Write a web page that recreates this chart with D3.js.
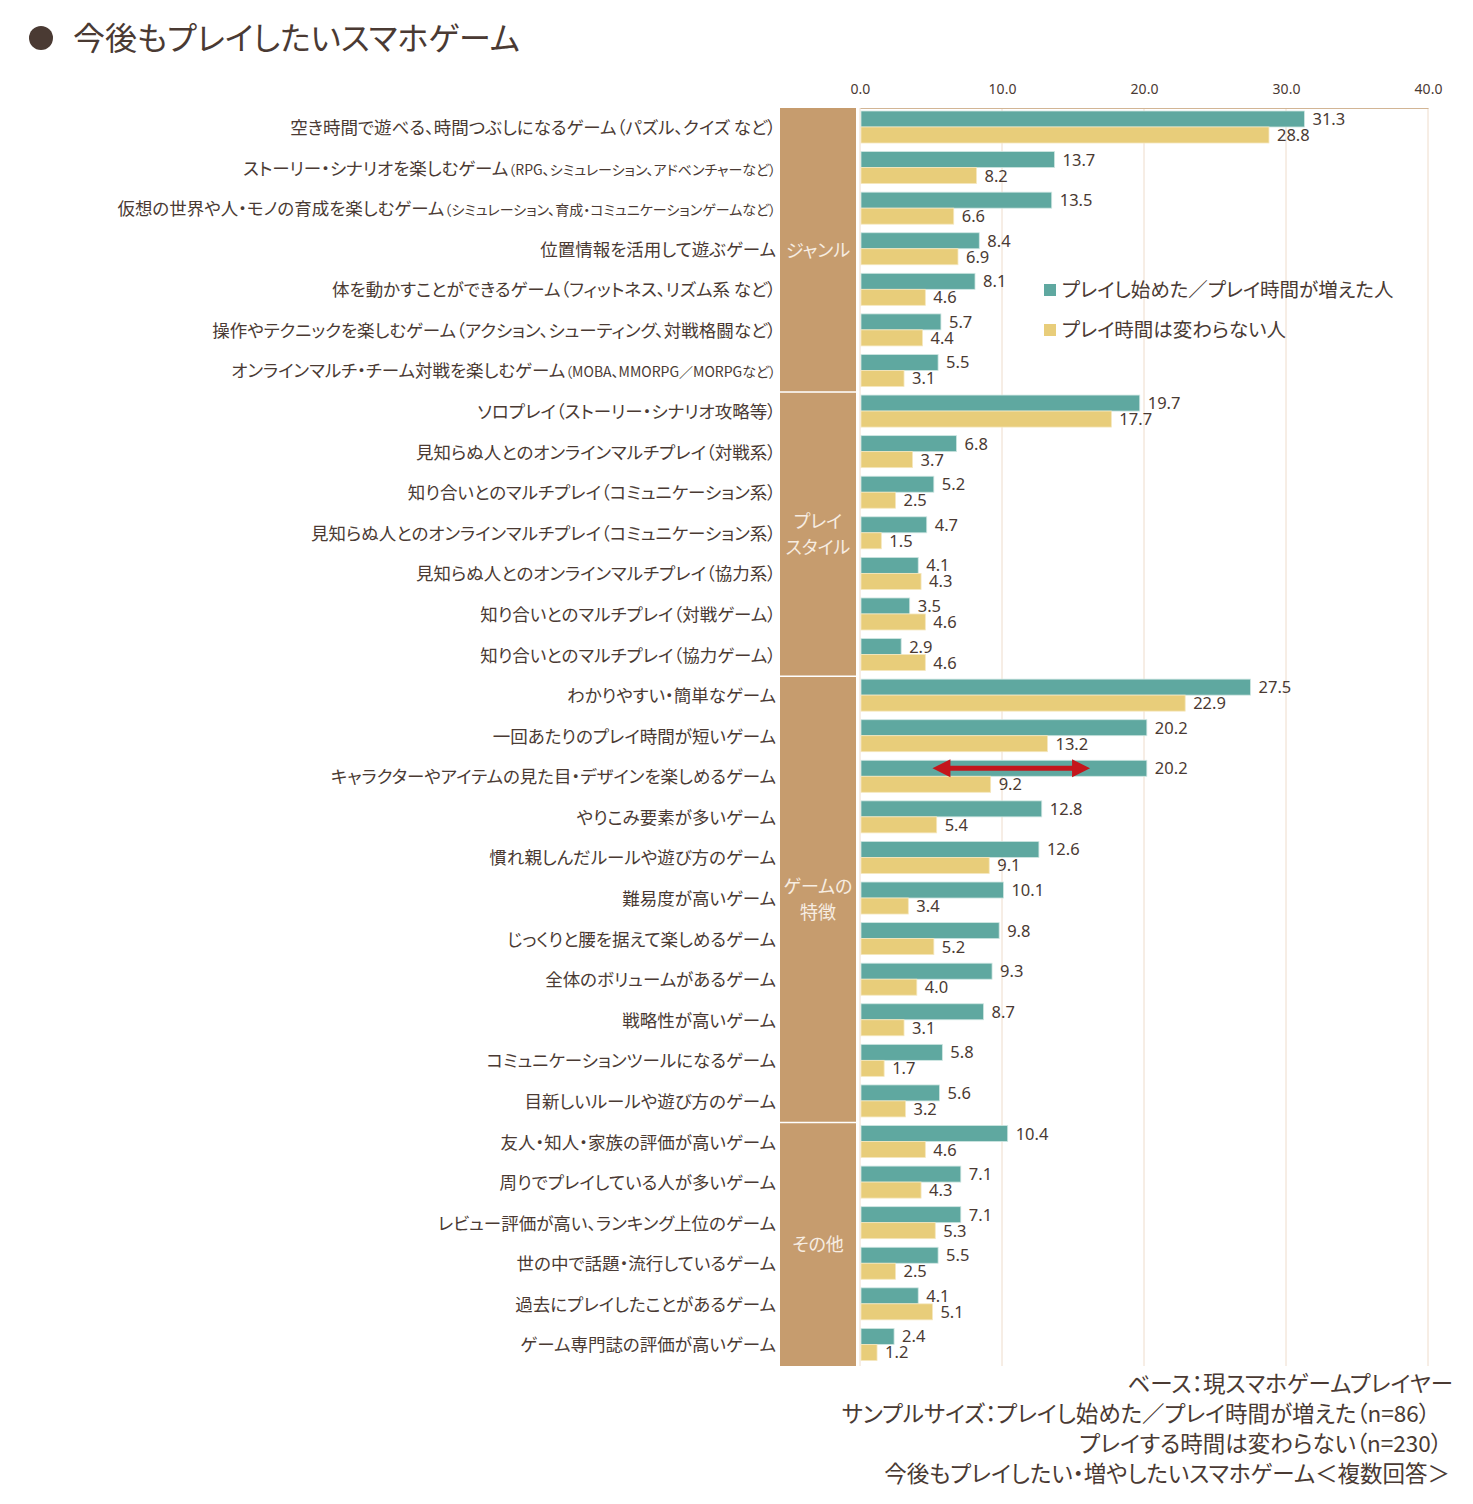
<!DOCTYPE html>
<html>
<head>
<meta charset="utf-8">
<script src="https://cdn.jsdelivr.net/npm/d3@7"></script>
<style>
  body { margin: 0; background: #fff; }
  svg text { font-family: "Noto Sans CJK JP", "Noto Sans", sans-serif; font-feature-settings: "palt"; fill: #4a3a33; }
</style>
</head>
<body>
<div id="chart-area"></div>
<script>
// DATA
// =================
var labels = [
    ['空き時間で遊べる、時間つぶしになるゲーム（パズル、クイズ など）', ''],
    ['ストーリー・シナリオを楽しむゲーム', '（RPG、シミュレーション、アドベンチャーなど）'],
    ['仮想の世界や人・モノの育成を楽しむゲーム', '（シミュレーション、育成・コミュニケーションゲームなど）'],
    ['位置情報を活用して遊ぶゲーム', ''],
    ['体を動かすことができるゲーム（フィットネス、リズム系 など）', ''],
    ['操作やテクニックを楽しむゲーム（アクション、シューティング、対戦格闘など）', ''],
    ['オンラインマルチ・チーム対戦を楽しむゲーム', '（MOBA、MMORPG／MORPGなど）'],
    ['ソロプレイ（ストーリー・シナリオ攻略等）', ''],
    ['見知らぬ人とのオンラインマルチプレイ（対戦系）', ''],
    ['知り合いとのマルチプレイ（コミュニケーション系）', ''],
    ['見知らぬ人とのオンラインマルチプレイ（コミュニケーション系）', ''],
    ['見知らぬ人とのオンラインマルチプレイ（協力系）', ''],
    ['知り合いとのマルチプレイ（対戦ゲーム）', ''],
    ['知り合いとのマルチプレイ（協力ゲーム）', ''],
    ['わかりやすい・簡単なゲーム', ''],
    ['一回あたりのプレイ時間が短いゲーム', ''],
    ['キャラクターやアイテムの見た目・デザインを楽しめるゲーム', ''],
    ['やりこみ要素が多いゲーム', ''],
    ['慣れ親しんだルールや遊び方のゲーム', ''],
    ['難易度が高いゲーム', ''],
    ['じっくりと腰を据えて楽しめるゲーム', ''],
    ['全体のボリュームがあるゲーム', ''],
    ['戦略性が高いゲーム', ''],
    ['コミュニケーションツールになるゲーム', ''],
    ['目新しいルールや遊び方のゲーム', ''],
    ['友人・知人・家族の評価が高いゲーム', ''],
    ['周りでプレイしている人が多いゲーム', ''],
    ['レビュー評価が高い、ランキング上位のゲーム', ''],
    ['世の中で話題・流行しているゲーム', ''],
    ['過去にプレイしたことがあるゲーム', ''],
    ['ゲーム専門誌の評価が高いゲーム', '']
];

var increased = [31.3, 13.7, 13.5, 8.4, 8.1, 5.7, 5.5,
    19.7, 6.8, 5.2, 4.7, 4.1, 3.5, 2.9,
    27.5, 20.2, 20.2, 12.8, 12.6, 10.1, 9.8, 9.3, 8.7, 5.8, 5.6,
    10.4, 7.1, 7.1, 5.5, 4.1, 2.4];

var unchanged = [28.8, 8.2, 6.6, 6.9, 4.6, 4.4, 3.1,
    17.7, 3.7, 2.5, 1.5, 4.3, 4.6, 4.6,
    22.9, 13.2, 9.2, 5.4, 9.1, 3.4, 5.2, 4.0, 3.1, 1.7, 3.2,
    4.6, 4.3, 5.3, 2.5, 5.1, 1.2];

var groups = [
    { name: ['ジャンル'], from: 0, to: 6 },
    { name: ['プレイ', 'スタイル'], from: 7, to: 13 },
    { name: ['ゲームの', '特徴'], from: 14, to: 24 },
    { name: ['その他'], from: 25, to: 30 }
];

var ticks = [0, 10, 20, 30, 40];
var seriesNames = ['プレイし始めた／プレイ時間が増えた人', 'プレイ時間は変わらない人'];
var footer = [
    'ベース：現スマホゲームプレイヤー',
    'サンプルサイズ：プレイし始めた／プレイ時間が増えた（n=86）',
    'プレイする時間は変わらない（n=230）',
    '今後もプレイしたい・増やしたいスマホゲーム＜複数回答＞'
];
var arrowRow = 16, arrowFrom = 5.1, arrowTo = 16.2;

// CANVAS
// =================
var W = 1473, H = 1504;
var teal = '#5fa8a0', yellow = '#e8cd7a', band = '#c69c6e', grid = '#eedccb', ink = '#4a3a33';

var svg = d3.select('#chart-area')
    .append('svg')
        .attr('width', W)
        .attr('height', H);

// TITLE
svg.append('circle').attr('cx', 41).attr('cy', 38).attr('r', 12).attr('fill', ink);
svg.append('text')
    .attr('x', 73).attr('y', 50)
    .attr('font-size', '32px')
    .text('今後もプレイしたいスマホゲーム');

// SCALES
// =================
var x = d3.scaleLinear().domain([0, 40]).range([860, 1428]);
var y = d3.scaleBand().domain(d3.range(labels.length)).range([108, 1366]);
var ySub = d3.scaleBand().domain(['inc', 'same']).range([3, 35]);

// GRID
svg.append('g').selectAll('line')
    .data(ticks)
    .enter().append('line')
        .attr('x1', d => x(d)).attr('x2', d => x(d))
        .attr('y1', 108).attr('y2', 1366)
        .attr('stroke', grid).attr('stroke-width', 1);

// AXIS
var xAxisCall = d3.axisTop(x)
    .tickValues(ticks)
    .tickSize(0)
    .tickPadding(14)
    .tickFormat(d3.format('.1f'));
var xAxis = svg.append('g')
    .attr('transform', 'translate(0,108)')
    .call(xAxisCall);
xAxis.select('.domain').attr('stroke', '#d2b595');
xAxis.selectAll('text')
    .attr('font-size', '14px')
    .style('font-family', '"Noto Sans", sans-serif')
    .attr('fill', ink);

// CATEGORY BAND
var gb = svg.append('g');
gb.selectAll('rect')
    .data(groups)
    .enter().append('rect')
        .attr('x', 780).attr('width', 76)
        .attr('y', d => y(d.from))
        .attr('height', d => y(d.to) + y.bandwidth() - y(d.from))
        .attr('fill', band);
gb.selectAll('line')
    .data(groups.slice(1))
    .enter().append('line')
        .attr('x1', 780).attr('x2', 856)
        .attr('y1', d => y(d.from)).attr('y2', d => y(d.from))
        .attr('stroke', '#fff').attr('stroke-width', 1.5);
groups.forEach(g => {
    var cy = (y(g.from) + y(g.to) + y.bandwidth()) / 2;
    var t = svg.append('text')
        .attr('x', 818)
        .attr('text-anchor', 'middle')
        .attr('font-size', '18px')
        .style('fill', '#f7ede2');
    g.name.forEach((n, i) => {
        t.append('tspan')
            .attr('x', 818)
            .attr('y', cy + 7 + (i - (g.name.length - 1) / 2) * 26)
            .text(n);
    });
});

// ROW LABELS
labels.forEach((l, i) => {
    var t = svg.append('text')
        .attr('x', 776)
        .attr('y', y(i) + 26)
        .attr('text-anchor', 'end')
        .attr('font-size', '17.5px');
    t.append('tspan').text(l[0]);
    if (l[1]) t.append('tspan').attr('font-size', '14px').text(l[1]);
});

// BARS
var rows = svg.append('g').selectAll('g')
    .data(labels.map((l, i) => ({ i: i, inc: increased[i], same: unchanged[i] })))
    .enter().append('g')
        .attr('transform', d => 'translate(0,' + y(d.i) + ')');

rows.append('rect')
    .attr('x', x(0) + 1)
    .attr('y', ySub('inc'))
    .attr('width', d => x(d.inc) - x(0) - 1)
    .attr('height', ySub.bandwidth())
    .attr('fill', teal)
    .attr('stroke', '#cfe6e2').attr('stroke-width', 0.8);

rows.append('rect')
    .attr('x', x(0) + 1)
    .attr('y', ySub('same'))
    .attr('width', d => x(d.same) - x(0) - 1)
    .attr('height', ySub.bandwidth())
    .attr('fill', yellow)
    .attr('stroke', '#f5e7bd').attr('stroke-width', 0.8);

rows.append('text')
    .attr('x', d => x(d.inc) + 8)
    .attr('y', ySub('inc') + ySub.bandwidth() / 2 + 6)
    .attr('font-size', '16.5px')
    .style('font-family', '"Noto Sans", sans-serif')
    .text(d => d.inc.toFixed(1));

rows.append('text')
    .attr('x', d => x(d.same) + 8)
    .attr('y', ySub('same') + ySub.bandwidth() / 2 + 6)
    .attr('font-size', '16.5px')
    .style('font-family', '"Noto Sans", sans-serif')
    .text(d => d.same.toFixed(1));

// ARROW
var ay = y(arrowRow) + ySub('inc') + ySub.bandwidth() / 2;
var ax1 = x(arrowFrom), ax2 = x(arrowTo);
svg.append('line')
    .attr('x1', ax1 + 14).attr('x2', ax2 - 14)
    .attr('y1', ay).attr('y2', ay)
    .attr('stroke', '#c4161c').attr('stroke-width', 5);
svg.append('path')
    .attr('d', 'M' + ax1 + ',' + ay + 'L' + (ax1 + 18) + ',' + (ay - 9) + 'L' + (ax1 + 18) + ',' + (ay + 9) + 'Z')
    .attr('fill', '#c4161c');
svg.append('path')
    .attr('d', 'M' + ax2 + ',' + ay + 'L' + (ax2 - 18) + ',' + (ay - 9) + 'L' + (ax2 - 18) + ',' + (ay + 9) + 'Z')
    .attr('fill', '#c4161c');

// LEGEND
var lg = svg.append('g').selectAll('g')
    .data(seriesNames)
    .enter().append('g')
        .attr('transform', (d, i) => 'translate(1044,' + (284 + i * 40) + ')');
lg.append('rect')
    .attr('width', 12).attr('height', 12)
    .attr('fill', (d, i) => i === 0 ? teal : yellow);
lg.append('text')
    .attr('x', 18).attr('y', 13)
    .attr('font-size', '19.5px')
    .text(d => d);

// FOOTER
svg.append('g').selectAll('text')
    .data(footer)
    .enter().append('text')
        .attr('x', (d, i) => [1453, 1430, 1442, 1450][i])
        .attr('y', (d, i) => 1392 + i * 30)
        .attr('text-anchor', 'end')
        .attr('font-size', '22.5px')
        .text(d => d);
</script>
</body>
</html>
